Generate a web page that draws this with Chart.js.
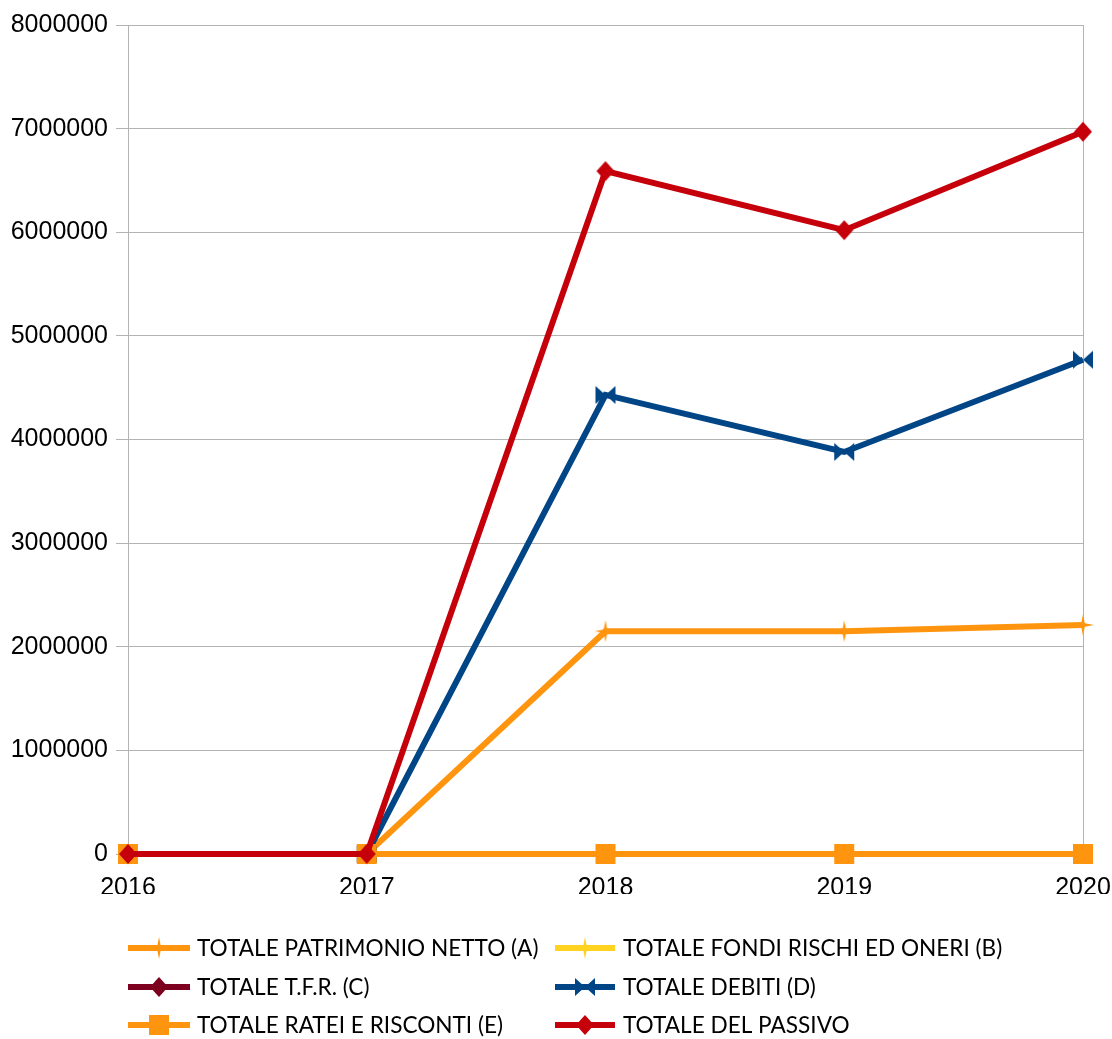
<!DOCTYPE html>
<html>
<head>
<meta charset="utf-8">
<script src="https://cdn.jsdelivr.net/npm/chart.js@4"></script>
<style>
  html, body { margin: 0; padding: 0; background: #fff; }
  #wrap { width: 1112px; height: 1039px; }
</style>
</head>
<body>
<div id="wrap"><canvas id="passivoChart"></canvas></div>
<script>
// Stato patrimoniale - passivo
const years = ['2016', '2017', '2018', '2019', '2020'];
const patrimonioNetto = [0, 0, 2150000, 2150000, 2210000];
const fondiRischi = [0, 0, 0, 0, 0];
const tfr = [0, 0, 0, 0, 0];
const debiti = [0, 0, 4430000, 3880000, 4770000];
const rateiRisconti = [0, 0, 0, 0, 0];
const totalePassivo = [0, 0, 6590000, 6020000, 6970000];
const yTicks = [0, 1000000, 2000000, 3000000, 4000000, 5000000, 6000000, 7000000, 8000000];

// point symbols drawn on small canvases
function marker(shape, color) {
  const s = 22, m = s / 2;
  const c = document.createElement('canvas');
  c.width = s; c.height = s;
  const g = c.getContext('2d');
  g.fillStyle = color;
  g.beginPath();
  if (shape === 'square') {
    g.rect(1, 1, 20, 20);
  } else if (shape === 'diamond') {
    g.moveTo(m, 1); g.lineTo(s - 2, m); g.lineTo(m, s - 1); g.lineTo(2, m);
  } else if (shape === 'bowtie') {
    g.moveTo(1, 2); g.lineTo(m, m); g.lineTo(1, s - 2); g.closePath();
    g.moveTo(s - 1, 2); g.lineTo(m, m); g.lineTo(s - 1, s - 2);
  } else if (shape === 'star') {
    const r = 1.8;
    g.moveTo(m, 0); g.lineTo(m + r, m - r); g.lineTo(s, m); g.lineTo(m + r, m + r);
    g.lineTo(m, s); g.lineTo(m - r, m + r); g.lineTo(0, m); g.lineTo(m - r, m - r);
  }
  g.closePath();
  g.fill();
  return c;
}

function serie(label, data, color, shape, order) {
  const img = marker(shape, color);
  return {
    label, data, order,
    borderColor: color,
    backgroundColor: color,
    borderWidth: 6,
    tension: 0,
    pointStyle: img,
    pointRadius: 10,
    pointHoverRadius: 10,
    clip: false
  };
}

const datasets = [
  serie('TOTALE PATRIMONIO NETTO (A)', patrimonioNetto, '#ff950e', 'star', 5),
  serie('TOTALE FONDI RISCHI ED ONERI (B)', fondiRischi, '#ffd320', 'star', 4),
  serie('TOTALE T.F.R. (C)', tfr, '#7e0021', 'diamond', 3),
  serie('TOTALE DEBITI (D)', debiti, '#004586', 'bowtie', 2),
  serie('TOTALE RATEI E RISCONTI (E)', rateiRisconti, '#ff950e', 'square', 1),
  serie('TOTALE DEL PASSIVO', totalePassivo, '#c5000b', 'diamond', 0)
];

// two-column legend below the plot
const legendGrid = {
  id: 'legendGrid',
  afterDraw(chart) {
    const ctx = chart.ctx;
    const cols = [{ x1: 128, x2: 190, tx: 197 }, { x1: 555, x2: 615, tx: 623 }];
    const rows = [948, 987, 1025];
    ctx.save();
    ctx.font = '22.6px Lato';
    ctx.textBaseline = 'middle';
    ctx.textAlign = 'left';
    chart.data.datasets.forEach((ds, i) => {
      const c = cols[i % 2], y = rows[Math.floor(i / 2)];
      ctx.strokeStyle = ds.borderColor;
      ctx.lineWidth = 6;
      ctx.beginPath();
      ctx.moveTo(c.x1, y);
      ctx.lineTo(c.x2, y);
      ctx.stroke();
      const img = ds.pointStyle;
      ctx.drawImage(img, (c.x1 + c.x2) / 2 - img.width / 2, y - img.height / 2);
      ctx.fillStyle = '#000';
      ctx.fillText(ds.label, c.tx, y + 1);
    });
    ctx.restore();
  }
};

const ctx = document.getElementById('passivoChart').getContext('2d');

new Chart(ctx, {
  type: 'line',
  data: { labels: years, datasets },
  options: {
    responsive: true,
    maintainAspectRatio: false,
    animation: false,
    layout: { padding: { left: 0, top: 25, right: 29, bottom: 145 } },
    plugins: {
      legend: { display: false },
      tooltip: { enabled: false }
    },
    scales: {
      x: {
        offset: false,
        afterFit(scale) {
          scale.height = 40;
          scale.paddingRight = 0;
          scale.paddingLeft = 0;
        },
        grid: {
          color: (c) => (c.index === years.length - 1 ? '#b3b3b3' : 'rgba(0,0,0,0)'),
          tickColor: '#b3b3b3',
          tickLength: 8,
          lineWidth: 1
        },
        border: { color: '#b3b3b3' },
        ticks: {
          color: '#000',
          font: { family: 'Liberation Sans', size: 25 },
          padding: 11,
          maxRotation: 0
        }
      },
      y: {
        min: 0,
        max: 8000000,
        afterFit(scale) { scale.width = 128; },
        afterBuildTicks(scale) { scale.ticks = yTicks.map(v => ({ value: v })); },
        grid: { color: '#b3b3b3', tickColor: '#b3b3b3', tickLength: 12, lineWidth: 1 },
        border: { color: '#b3b3b3' },
        ticks: {
          color: '#000',
          font: { family: 'Liberation Sans', size: 25 },
          padding: 8,
          callback: (v) => String(v)
        }
      }
    }
  },
  plugins: [legendGrid]
});
</script>
</body>
</html>
